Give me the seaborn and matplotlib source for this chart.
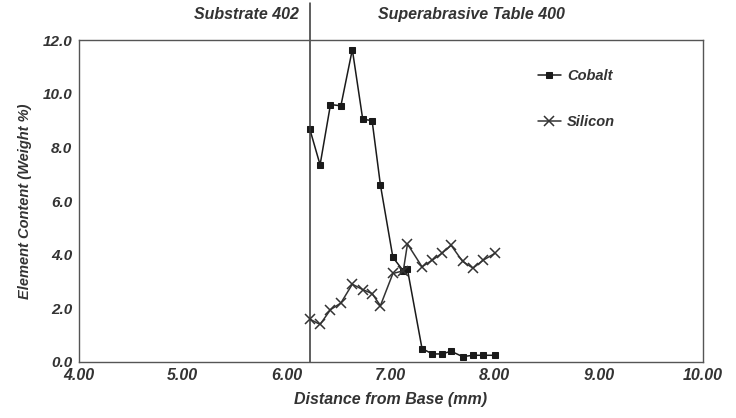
import numpy as np
import pandas as pd
import matplotlib.pyplot as plt
import seaborn as sns

# data
distance = [6.22, 6.32, 6.42, 6.52, 6.63, 6.73, 6.82, 6.90, 7.02, 7.12, 7.16,
            7.30, 7.40, 7.49, 7.58, 7.69, 7.79, 7.89, 8.00]
cobalt = [8.7, 7.35, 9.6, 9.55, 11.65, 9.05, 9.0, 6.6, 3.9, 3.4, 3.45,
          0.5, 0.3, 0.3, 0.4, 0.2, 0.25, 0.25, 0.25]
silicon = [1.6, 1.4, 1.95, 2.2, 2.9, 2.7, 2.55, 2.1, 3.3, 3.4, 4.4,
           3.55, 3.8, 4.05, 4.35, 3.75, 3.5, 3.8, 4.05]
x_ticks = [4.0, 5.0, 6.0, 7.0, 8.0, 9.0, 10.0]
y_ticks = [0, 2, 4, 6, 8, 10, 12]
boundary = 6.22

df = pd.DataFrame({'Distance': distance, 'Cobalt': cobalt, 'Silicon': silicon})

sns.set_style('white')
plt.rcParams['font.family'] = ['Liberation Sans', 'DejaVu Sans']
txt = dict(fontstyle='italic', fontweight='bold', color='#333333')

fig = plt.figure(figsize=(7.36, 4.18), dpi=100)
ax = fig.add_axes([0.107, 0.134, 0.848, 0.770])

sns.lineplot(data=df, x='Distance', y='Cobalt', ax=ax, color='#1a1a1a', lw=1.1,
             marker='s', markersize=5, markeredgecolor='#1a1a1a', label='Cobalt')
sns.lineplot(data=df, x='Distance', y='Silicon', ax=ax, color='#333333', lw=1.1,
             marker='x', markersize=7, markeredgewidth=1.1, markeredgecolor='#333333',
             label='Silicon')

ax.axvline(boundary, ymin=0, ymax=1.115, color='#333333', lw=1.1, clip_on=False)
ax.text(boundary - 0.1, 12.95, 'Substrate 402', ha='right', va='center', fontsize=11.5, **txt)
ax.text(6.88, 12.95, 'Superabrasive Table 400', ha='left', va='center', fontsize=11.5, **txt)

ax.set_xlim(4, 10)
ax.set_ylim(0, 12)
ax.set_xticks(x_ticks)
ax.set_xticklabels([f'{v:.2f}' for v in x_ticks], fontsize=11.5, **txt)
ax.set_yticks(y_ticks)
ax.set_yticklabels([f'{v:.1f}' for v in y_ticks], fontsize=11, **txt)
ax.tick_params(axis='both', direction='inout', length=5, width=0.8, color='#555555', pad=2)
ax.set_xlabel('Distance from Base (mm)', fontsize=11.5, labelpad=6, **txt)
ax.set_ylabel('Element Content (Weight %)', fontsize=10.5, labelpad=8, **txt)

for s in ax.spines.values():
    s.set_color('#555555')
    s.set_linewidth(1.0)

leg = ax.legend(loc='upper right', bbox_to_anchor=(0.88, 0.95), frameon=False,
                handlelength=1.6, handletextpad=0.4, labelspacing=2.2,
                prop={'size': 10.5, 'style': 'italic', 'weight': 'bold'})
for t in leg.get_texts():
    t.set_color('#333333')

fig.savefig('out.png', dpi=100)
